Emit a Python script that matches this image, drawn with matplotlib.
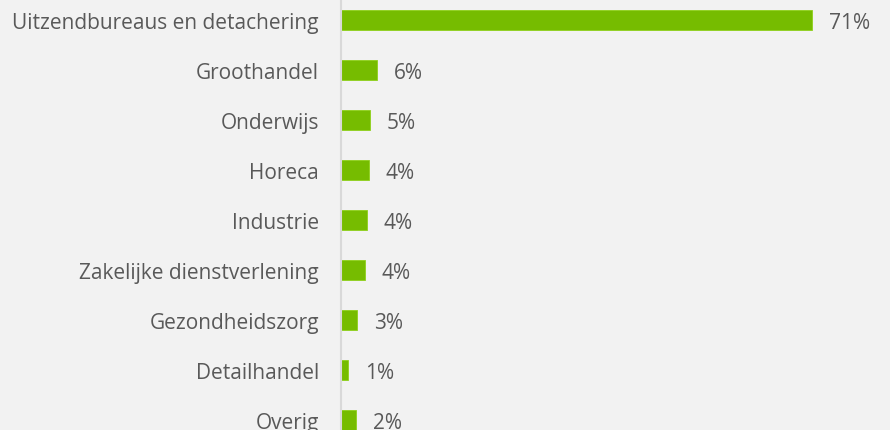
import matplotlib
matplotlib.use("Agg")
import matplotlib.pyplot as plt

# Sectors, bar lengths and the printed labels
categories = ["Uitzendbureaus en detachering", "Groothandel", "Onderwijs", "Horeca",
              "Industrie", "Zakelijke dienstverlening", "Gezondheidszorg",
              "Detailhandel", "Overig"]
values = [71.0, 5.4, 4.4, 4.2, 3.9, 3.6, 2.4, 1.1, 2.3]
labels = ["71%", "6%", "5%", "4%", "4%", "4%", "3%", "1%", "2%"]

bg = "#f2f2f2"
green = "#76bc00"
text_col = "#595959"

plt.rcParams['font.family'] = ['Open Sans', 'DejaVu Sans']

fig = plt.figure(figsize=(8.9, 4.31), dpi=100, facecolor=bg)
ax = fig.add_axes([341 / 890, 0, 549 / 890, 1])
ax.set_facecolor(bg)

ypos = list(range(len(categories)))
ax.barh(ypos, values, height=0.4, color=green, edgecolor="#8fd11a", linewidth=0.6)

# value labels next to each bar
for y, v, lab in zip(ypos, values, labels):
    ax.annotate(lab, (v, y), xytext=(12, -1.5), textcoords="offset points",
                va="center", ha="left", fontsize=15, color=text_col)

ax.set_xlim(0, 549 / 6.64)
ax.set_ylim(8.2, -0.42)

ax.set_yticks(ypos)
ax.set_yticklabels(categories, fontsize=15, color=text_col)
ax.tick_params(axis="y", length=0, pad=16)
ax.set_xticks([])

for side in ["top", "right", "bottom"]:
    ax.spines[side].set_visible(False)
ax.spines["left"].set_color("#d9d9d9")
ax.spines["left"].set_linewidth(1.5)

fig.savefig("out.png", dpi=100, facecolor=bg)
